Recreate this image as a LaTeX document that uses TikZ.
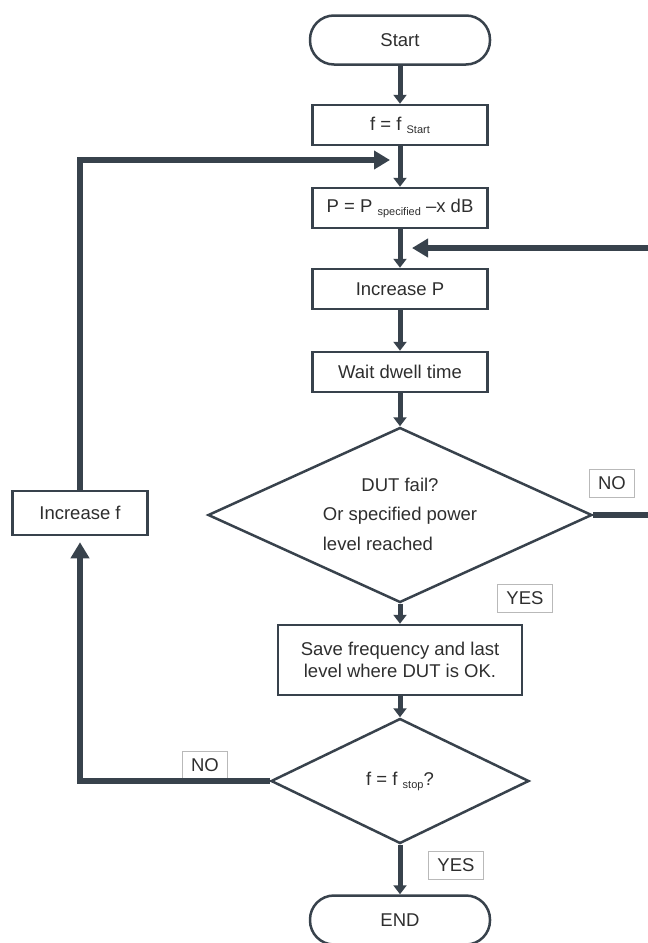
\documentclass[tikz,border=0pt]{standalone}
\usepackage{fontspec}
\setmainfont{Liberation Sans}
\usetikzlibrary{arrows.meta,shapes.geometric}
\definecolor{slate}{rgb}{0.22,0.26,0.30}
\newcommand{\subtxt}[1]{\raisebox{-3pt}{\fontsize{11}{13}\selectfont #1}}

\begin{document}
\begin{tikzpicture}[line join=miter,>={Triangle[width=18pt,length=16pt]},x=1pt,y=-1pt,
  every node/.style={font=\fontsize{18.5}{22}\selectfont,text=black!82},
  term/.style={draw=slate,line width=2.5pt,rounded corners=24pt,minimum width=180pt,minimum height=49pt},
  proc/.style={draw=slate,line width=2.5pt,minimum width=175pt,minimum height=40pt},
  decide/.style={diamond,draw=slate,line width=2.5pt,inner sep=0pt,aspect=2.2},
  tag/.style={draw=gray!55,line width=0.8pt,inner xsep=9pt,minimum height=28pt},
  flow/.style={-{Triangle[width=13pt,length=9pt]},draw=slate,line width=5pt},
  loop/.style={->,draw=slate,line width=6pt}]
\clip(0,0) rectangle (648,943);
\node[term] (start) at (400,40) {Start};
\node[proc] (fset) at (400,125) {f = f \subtxt{Start}};
\node[proc] (pset) at (400,208) {P = P \subtxt{specified} --x dB};
\node[proc] (incp) at (400,289) {Increase P};
\node[proc] (dwell) at (400,372) {Wait dwell time};
\node[decide,minimum width=384pt,minimum height=175pt] (fail) at (400,515)
  {\renewcommand{\arraystretch}{1.35}\begin{tabular}{@{}l@{}}\multicolumn{1}{@{}c@{}}{DUT fail?}\\Or specified power\\level reached\end{tabular}};
\node[proc,minimum width=244pt,minimum height=70pt,align=center] (save) at (400,660) {Save frequency and last\\level where DUT is OK.};
\node[decide,minimum width=258pt,minimum height=125pt] (stop) at (400,781) {f = f \subtxt{stop}?};
\node[term] (finish) at (400,920) {END};
\node[proc,minimum width=135pt,minimum height=44pt] (incf) at (80,513) {Increase f};
\node[tag] (noa) at (612,483) {NO};
\node[tag] (yesa) at (525,598) {YES};
\node[tag] (nob) at (205,765) {NO};
\node[tag] (yesb) at (456,865) {YES};
\coordinate (pin) at (412,248);
\coordinate (fin) at (390,160);
\draw[flow] (start.south) -- (fset.north);
\draw[flow] (fset.south) -- (pset.north);
\draw[flow] (pset.south) -- (incp.north);
\draw[flow] (incp.south) -- (dwell.north);
\draw[flow] (dwell.south) -- (fail.north);
\draw[flow] (fail.south) -- (save.north);
\draw[flow] (save.south) -- (stop.north);
\draw[flow] (stop.south) -- (finish.north);
\draw[loop] (fail.east) -- ++(90,0) |- (pin);
\draw[loop,shorten >=6pt] (stop.west) -| (incf.south);
\draw[loop] (incf.north) |- (fin);
\end{tikzpicture}
\end{document}
